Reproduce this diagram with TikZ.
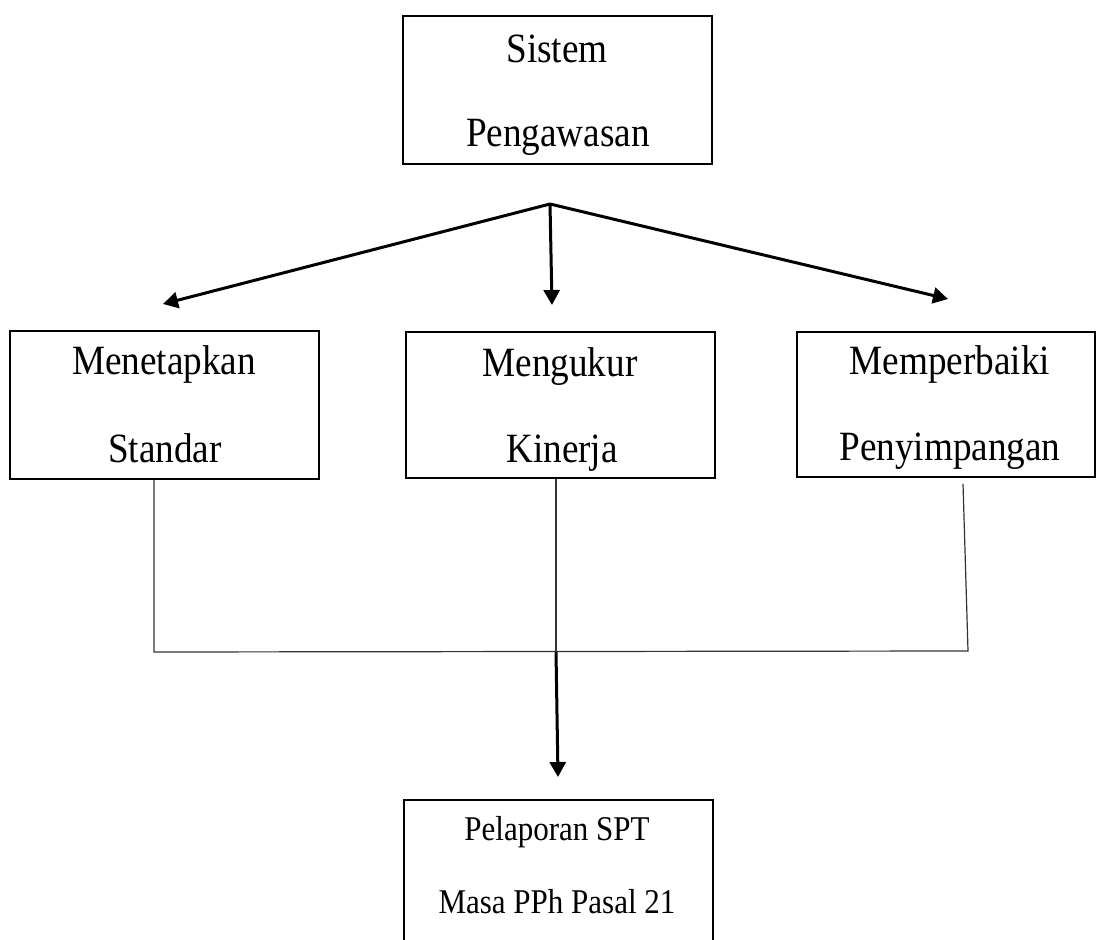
\documentclass[tikz,border=0pt]{standalone}
\usepackage{fontspec}
\setmainfont{Liberation Serif}
\usetikzlibrary{arrows.meta}
\newcommand{\vst}[1]{\scalebox{1}[1.12]{#1}}
\begin{document}
\begin{tikzpicture}[x=0.5pt,y=-0.5pt,
  box/.style={draw,line width=1.1pt,rectangle,inner sep=0pt,minimum width=154.5pt,minimum height=74pt},
  lbl/.style={anchor=base,inner sep=0pt,font=\fontsize{18.6}{22}\selectfont},
  slbl/.style={anchor=base,inner sep=0pt,font=\fontsize{15.5}{19}\selectfont},
  arr/.style={line width=1.5pt,-{Triangle[length=7.5pt,width=8pt]}},
  thin/.style={line width=0.6pt,draw=black!80}]
\useasboundingbox (0,0) rectangle (1096,940);
\clip (0,0) rectangle (1096,940);
\fill[white] (0,0) rectangle (1096,940);
% boxes
\node[box] (top) at (557.5,90) {};
\node[box] (L) at (164.5,405) {};
\node[box,minimum height=73pt] (M) at (560.5,405) {};
\node[box,minimum width=149pt,minimum height=72.5pt] (R) at (946,404.5) {};
\node[box,minimum height=80pt] (B) at (558.5,880) {};
% texts
\node[lbl] (t1) at (557,63) {\vst{Sistem}};
\node[lbl] (t2) at (558,147) {\vst{Pengawasan}};
\node[lbl] (l1) at (164,375) {\vst{Menetapkan}};
\node[lbl] (l2) at (165,462) {\vst{Standar}};
\node[lbl] (m1) at (560,377) {\vst{Mengukur}};
\node[lbl] (m2) at (562,462) {\vst{Kinerja}};
\node[lbl] (r1) at (950,375) {\vst{Memperbaiki}};
\node[lbl] (r2) at (950,460) {\vst{Penyimpangan}};
\node[slbl] (b1) at (557,840) {\vst{Pelaporan SPT}};
\node[slbl] (b2) at (557,913) {\vst{Masa PPh Pasal 21}};
% coordinates
\coordinate (split) at (550,204);
\coordinate (aL) at (163,304);
\coordinate (aM) at (552,305);
\coordinate (aR) at (948,299);
\coordinate (jL) at (154,652);
\coordinate (jM) at (556,652);
\coordinate (jR) at (968,651);
\coordinate (rTop) at (963,484);
\coordinate (aB) at (558,777);
% connectors
\draw[arr] (split) -- (aL);
\draw[arr] (split) -- (aM);
\draw[arr] (split) -- (aR);
\draw[thin] (jL |- L.south) -- (jL) -- (jR) -- (rTop);
\draw[thin] (jM |- M.south) -- (jM);
\draw[arr] (jM) -- (aB);
\end{tikzpicture}
\end{document}
